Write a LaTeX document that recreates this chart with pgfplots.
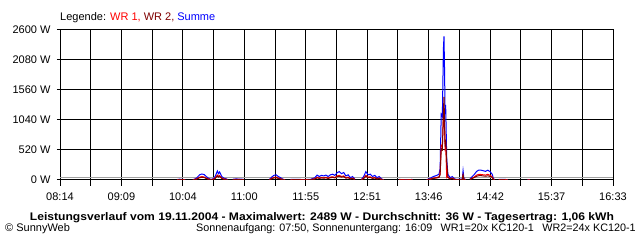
\documentclass[border=0pt]{standalone}
\usepackage{fontspec}
\setmainfont{Liberation Sans}
\usepackage{pgfplots}
\usepackage{pgfplotstable}
\pgfplotsset{compat=1.18}
\definecolor{wrone}{RGB}{255,0,0}
\definecolor{wrtwo}{RGB}{128,0,0}
\definecolor{summe}{RGB}{0,0,255}
\definecolor{avg}{RGB}{160,160,160}
\pgfplotstableread{
t wr1 wr2 sum
600 6 5 11
602 8 6 14
604 5 5 10
607 4 3 7
nan nan nan nan
614 3 2 5
617 17 13 30
620 50 40 90
622 58 46 104
624 52 43 95
626 33 27 60
628 17 13 30
630 6 4 10
632 11 9 20
634 33 27 60
636 85 71 156
637 60 50 110
638 77 63 140
640 33 27 60
642 17 13 30
645 8 7 15
nan nan nan nan
650 8 7 15
653 10 8 18
656 9 7 16
660 6 5 11
nan nan nan nan
683 6 4 10
685 28 22 50
687 44 36 80
689 50 40 90
691 33 27 60
693 22 18 40
695 8 7 15
697 3 2 5
nan nan nan nan
702 5 4 9
708 6 5 11
714 4 3 7
720 6 5 11
724 22 18 40
726 47 38 85
728 33 27 60
730 44 36 80
732 38 32 70
734 47 38 85
736 33 27 60
738 50 40 90
740 55 45 100
742 44 36 80
744 69 56 125
746 80 65 145
748 60 50 110
750 72 58 130
752 38 32 70
754 50 40 90
756 22 18 40
758 33 27 60
760 11 9 20
nan nan nan nan
766 6 4 10
768 33 27 60
770 80 65 145
772 50 40 90
774 55 45 100
776 33 27 60
778 44 36 80
780 22 18 40
782 33 27 60
784 11 9 20
786 3 2 5
nan nan nan nan
800 5 4 9
806 4 3 7
812 5 4 9
nan nan nan nan
825 3 2 5
828 17 13 30
831 33 27 60
834 44 36 80
836 55 45 100
837 110 90 200
838 600 540 1140
839 580 520 1100
840 1100 1190 2290
840.5 1049 1440 2489
841 900 1000 1900
841.5 560 580 1140
842 600 700 1300
843 40 310 350
844 55 45 100
846 22 18 40
848 33 27 60
850 11 9 20
852 6 4 10
855 8 7 15
857 8 7 15
857.7 75 85 160
858.5 11 9 20
860 6 4 10
nan nan nan nan
864 11 9 20
866 33 27 60
868 55 45 100
870 85 65 150
872 98 75 173
874 95 75 170
876 90 70 160
878 85 65 150
880 98 72 170
882 82 63 145
884 55 45 100
885 17 13 30
886 6 4 10
nan nan nan nan
890 5 4 9
894 6 5 11
898 4 3 7
nan nan nan nan
916 3 2 5
918 3 2 5
}\data
\begin{document}
\begin{tikzpicture}
\useasboundingbox (0pt,0pt) rectangle (640pt,240pt);
\fill[white] (0pt,0pt) rectangle (640pt,240pt);
\begin{axis}[
  at={(60pt,60pt)}, anchor=south west, scale only axis,
  width=553pt, height=150pt,
  xmin=494, xmax=993, ymin=0, ymax=2600,
  axis line style={black, line width=1pt},
  grid=both,
  major grid style={black, line width=1pt},
  minor grid style={black, line width=1pt},
  xtick={494,549.444,604.889,660.333,715.778,771.222,826.667,882.111,937.556,993},
  xticklabels={08:14,09:09,10:04,11:00,11:55,12:51,13:46,14:42,15:37,16:33},
  minor xtick={521.72,577.17,632.61,688.06,743.5,798.94,854.39,909.83,965.28},
  ytick={0,520,1040,1560,2080,2600},
  yticklabels={0 W,520 W,1040 W,1560 W,2080 W,2600 W},
  tick pos=left,
  xtick align=outside, ytick align=center,
  major tick length=6pt, minor tick length=6pt,
  tick style={black, line width=1pt},
  tick label style={font=\fontsize{11}{13}\selectfont},
  xticklabel style={yshift=-3pt},
  yticklabel style={xshift=-3pt},
  unbounded coords=jump,
]
\addplot[avg, line width=1pt, forget plot] coordinates {(494,36) (993,36)};
\addplot[summe, line width=1pt] table[x=t, y=sum] {\data};
\addplot[wrone, line width=1pt] table[x=t, y=wr1] {\data};
\addplot[wrtwo, line width=1pt] table[x=t, y=wr2] {\data};
\end{axis}
\node[anchor=base west, font=\fontsize{11}{13}\selectfont, inner sep=0] at (60pt,219pt) {Legende: \textcolor{wrone}{WR 1,} \textcolor{wrtwo}{WR 2,} \textcolor{summe}{Summe}};
\node[anchor=base, font=\fontsize{11}{13}\selectfont\bfseries, inner sep=0] at (322pt,19pt) {\scalebox{1.1}[1]{Leistungsverlauf vom 19.11.2004 - Maximalwert: 2489 W - Durchschnitt: 36 W - Tagesertrag: 1,06 kWh}};
\node[anchor=base west, font=\fontsize{11}{13}\selectfont, inner sep=0] at (5pt,8pt) {© SunnyWeb};
\node[anchor=base east, font=\fontsize{10.8}{13}\selectfont, inner sep=0] at (636pt,8pt) {Sonnenaufgang: 07:50, Sonnenuntergang: 16:09\enspace\ WR1=20x KC120-1\enspace\ WR2=24x KC120-1};
\end{tikzpicture}
\end{document}
